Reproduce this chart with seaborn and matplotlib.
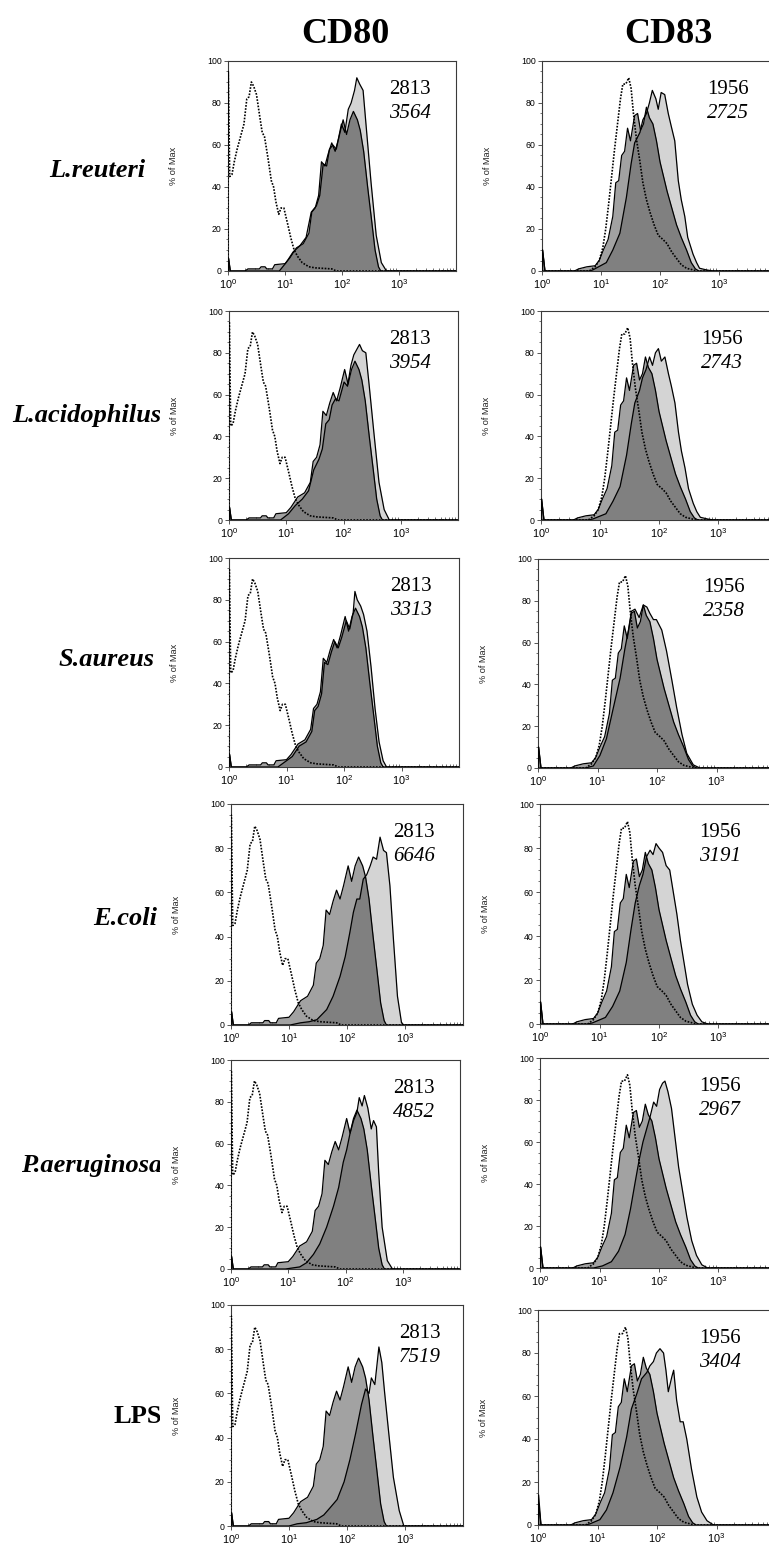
import numpy as np
import matplotlib
matplotlib.use("Agg")
import matplotlib.pyplot as plt
import seaborn as sns
from matplotlib.transforms import Bbox, TransformedBbox

# ---------------------------------------------------------------- data
# x values are log10 fluorescence (10^0 .. 10^4), y values are % of max.
stimuli = ["L.reuteri", "L.acidophilus", "S.aureus", "E.coli", "P.aeruginosa", "LPS"]
markers = ["CD80", "CD83"]
mfi_control = {"CD80": 2813, "CD83": 1956}
mfi_cd80 = [3564, 3954, 3313, 6646, 4852, 7519]
mfi_cd83 = [2725, 2743, 2358, 3191, 2967, 3404]
tick_labels = [r"$10^{0}$", r"$10^{1}$", r"$10^{2}$", r"$10^{3}$"]

# isotype control (dotted)
iso80_x = [0.0, 0.005, 0.03, 0.07, 0.11, 0.16, 0.21, 0.28, 0.33, 0.37, 0.41, 0.45, 0.50, 0.56, 0.60,
           0.64, 0.70, 0.76, 0.80, 0.84, 0.89, 0.93, 0.98, 1.05, 1.10, 1.16, 1.22, 1.30, 1.42, 1.53,
           1.82, 1.90, 4.0]
iso80_y = [0, 95, 45, 46, 52, 58, 63, 70, 82, 83, 90, 88, 84, 73, 66,
           64, 54, 43, 40, 33, 27, 30, 30, 22, 16, 10, 7, 4, 2, 1.5,
           1, 0, 0]
iso83_x = [0.0, 0.80, 0.90, 0.97, 1.03, 1.08, 1.13, 1.18, 1.23, 1.28, 1.33, 1.37, 1.42, 1.47, 1.51,
           1.55, 1.60, 1.66, 1.71, 1.77, 1.83, 1.90, 1.97, 2.05, 2.12, 2.20, 2.28, 2.36, 2.45, 2.56,
           2.62, 4.0]
iso83_y = [0, 0, 2, 5, 11, 20, 32, 45, 58, 70, 82, 89, 89, 92, 87,
           75, 63, 52, 42, 34, 28, 22, 17, 15, 13, 9, 6, 3, 1.3, 0.5,
           0, 0]

# unstimulated cells (medium grey)
ctrl80_x = [0.0, 0.01, 0.04, 0.30, 0.35, 0.55, 0.58, 0.65, 0.68, 0.78, 0.82, 1.00, 1.08, 1.20, 1.32,
            1.42, 1.47, 1.53, 1.59, 1.64, 1.70, 1.76, 1.82, 1.88, 1.94, 2.02, 2.08, 2.14, 2.20, 2.27,
            2.32, 2.38, 2.45, 2.52, 2.58, 2.64, 2.68, 4.0]
ctrl80_y = [0, 6, 0, 0, 1, 1, 2, 2, 1, 1, 3, 3.5, 6, 11, 13,
            18, 28, 30, 36, 52, 50, 56, 61, 57, 63, 72, 65, 72, 76, 72,
            67, 57, 40, 24, 10, 2, 0, 0]
ctrl83_x = [0.0, 0.01, 0.05, 0.55, 0.62, 0.76, 0.90, 0.97, 1.04, 1.12, 1.20, 1.25, 1.30, 1.35, 1.40,
            1.45, 1.50, 1.57, 1.62, 1.67, 1.72, 1.77, 1.82, 1.88, 1.94, 2.00, 2.06, 2.12, 2.20, 2.28,
            2.36, 2.45, 2.53, 2.60, 2.66, 4.0]
ctrl83_y = [0, 10, 0, 0, 1, 2, 2.5, 5, 10, 15, 26, 42, 43, 55, 57,
            68, 62, 74, 75, 67, 70, 78, 73, 70, 62, 52, 45, 38, 30, 22,
            16, 10, 4, 1, 0, 0]

# stimulated cells, CD80 (light grey)
cd80_reuteri_x = [0.0, 0.01, 0.04, 0.90, 1.02, 1.14, 1.26, 1.37, 1.46, 1.55, 1.61, 1.67, 1.73, 1.78, 1.84,
                  1.90, 1.99, 2.05, 2.11, 2.16, 2.22, 2.26, 2.31, 2.37, 2.43, 2.51, 2.60, 2.69, 2.78, 4.0]
cd80_reuteri_y = [0, 6, 0, 0, 4, 9, 12, 16, 28, 31, 36, 51, 50, 58, 60,
                  58, 70, 66, 77, 80, 86, 92, 89, 86, 67, 42, 17, 4, 0, 0]
cd80_acido_x = [0.0, 0.01, 0.04, 0.90, 1.04, 1.16, 1.28, 1.39, 1.48, 1.57, 1.63, 1.69, 1.75, 1.80, 1.86,
                1.92, 2.01, 2.07, 2.13, 2.18, 2.24, 2.28, 2.33, 2.39, 2.45, 2.53, 2.62, 2.71, 2.80, 4.0]
cd80_acido_y = [0, 6, 0, 0, 3, 7, 10, 14, 24, 29, 34, 46, 48, 55, 58,
                57, 66, 64, 74, 79, 82, 84, 81, 80, 64, 42, 18, 5, 0, 0]
cd80_aureus_x = [0.0, 0.01, 0.04, 0.85, 1.00, 1.10, 1.22, 1.34, 1.44, 1.49, 1.55, 1.61, 1.66, 1.72, 1.78,
                 1.84, 1.90, 1.96, 2.04, 2.10, 2.16, 2.19, 2.23, 2.29, 2.34, 2.40, 2.47, 2.54, 2.61, 2.68,
                 2.74, 4.0]
cd80_aureus_y = [0, 6, 0, 0, 3, 5, 10, 12, 17, 27, 29, 35, 50, 49, 55,
                 60, 57, 62, 70, 66, 74, 84, 80, 77, 73, 65, 48, 28, 12, 3,
                 0, 0]
cd80_ecoli_x = [0.0, 0.01, 0.04, 1.02, 1.20, 1.35, 1.48, 1.65, 1.76, 1.88, 1.97, 2.05, 2.11, 2.17, 2.22,
                2.28, 2.34, 2.40, 2.45, 2.51, 2.57, 2.63, 2.68, 2.74, 2.80, 2.87, 2.94, 2.98, 4.0]
cd80_ecoli_y = [0, 6, 0, 0, 1, 1.5, 2.4, 7, 13, 22, 31, 42, 51, 57, 57,
                66, 68, 72, 76, 75, 85, 79, 78, 63, 39, 13, 1, 0, 0]
cd80_paer_x = [0.0, 0.01, 0.04, 0.95, 1.20, 1.32, 1.44, 1.55, 1.67, 1.79, 1.88, 1.96, 2.02, 2.08, 2.14,
               2.20, 2.24, 2.29, 2.33, 2.39, 2.45, 2.49, 2.54, 2.58, 2.64, 2.73, 2.82, 4.0]
cd80_paer_y = [0, 6, 0, 0, 1, 3, 7, 12, 20, 30, 39, 51, 57, 65, 71,
               75, 82, 78, 83, 77, 67, 71, 68, 46, 20, 4, 0, 0]
cd80_lps_x = [0.0, 0.01, 0.04, 1.00, 1.14, 1.30, 1.48, 1.60, 1.70, 1.83, 1.95, 2.05, 2.15, 2.25, 2.32,
              2.38, 2.42, 2.48, 2.55, 2.60, 2.65, 2.72, 2.80, 2.90, 2.98, 4.0]
cd80_lps_y = [0, 6, 0, 0, 1, 1.5, 3, 5, 8, 12, 20, 30, 42, 55, 62,
              60, 67, 64, 81, 74, 60, 42, 22, 7, 0, 0]

# stimulated cells, CD83 (light grey)
cd83_reuteri_x = [0.0, 0.01, 0.05, 0.80, 0.86, 1.09, 1.20, 1.32, 1.43, 1.51, 1.57, 1.66, 1.71, 1.77, 1.82,
                  1.87, 1.93, 1.97, 2.02, 2.08, 2.14, 2.19, 2.25, 2.31, 2.36, 2.42, 2.47, 2.56, 2.62, 2.67,
                  2.79, 2.90, 4.0]
cd83_reuteri_y = [0, 10, 0, 0, 0.5, 4, 10, 18, 35, 51, 61, 66, 72, 75, 80,
                  86, 82, 77, 85, 84, 75, 69, 62, 43, 34, 26, 16, 8, 4, 1.3,
                  0.5, 0, 0]
cd83_acido_x = [0.0, 0.01, 0.05, 0.80, 0.88, 1.10, 1.22, 1.34, 1.45, 1.53, 1.59, 1.67, 1.72, 1.78, 1.84,
                1.89, 1.94, 1.99, 2.04, 2.10, 2.16, 2.21, 2.27, 2.33, 2.38, 2.44, 2.50, 2.58, 2.64, 2.70,
                2.82, 2.92, 4.0]
cd83_acido_y = [0, 10, 0, 0, 0.5, 3, 9, 16, 31, 46, 56, 62, 68, 72, 78,
                74, 80, 82, 76, 78, 70, 64, 56, 42, 33, 25, 15, 8, 4, 1.3,
                0.5, 0, 0]
cd83_aureus_x = [0.0, 0.01, 0.05, 0.80, 0.93, 1.04, 1.15, 1.26, 1.38, 1.46, 1.52, 1.57, 1.63, 1.70, 1.77,
                 1.83, 1.88, 1.94, 1.99, 2.08, 2.16, 2.25, 2.33, 2.42, 2.50, 2.61, 2.72, 4.0]
cd83_aureus_y = [0, 10, 0, 0, 1, 6, 14, 28, 43, 57, 66, 75, 76, 72, 78,
                 77, 74, 71, 71, 66, 56, 42, 29, 16, 7, 1.5, 0, 0]
cd83_ecoli_x = [0.0, 0.01, 0.05, 0.80, 0.88, 1.10, 1.22, 1.34, 1.45, 1.53, 1.60, 1.67, 1.73, 1.79, 1.85,
                1.90, 1.95, 2.00, 2.06, 2.12, 2.18, 2.24, 2.30, 2.36, 2.42, 2.48, 2.56, 2.64, 2.72, 2.82,
                4.0]
cd83_ecoli_y = [0, 10, 0, 0, 0.5, 3, 8, 15, 28, 43, 55, 63, 68, 76, 79,
                77, 82, 80, 78, 72, 70, 60, 50, 38, 28, 18, 9, 4, 1, 0,
                0]
cd83_paer_x = [0.0, 0.01, 0.05, 0.90, 1.05, 1.20, 1.32, 1.43, 1.52, 1.60, 1.67, 1.73, 1.79, 1.85, 1.91,
               1.96, 2.01, 2.06, 2.10, 2.15, 2.21, 2.27, 2.33, 2.40, 2.47, 2.55, 2.63, 2.72, 2.82, 4.0]
cd83_paer_y = [0, 10, 0, 0, 1, 3, 8, 16, 28, 41, 52, 60, 66, 72, 79,
               77, 85, 88, 89, 84, 76, 62, 48, 36, 24, 13, 6, 1.5, 0, 0]
cd83_lps_x = [0.0, 0.01, 0.05, 0.80, 0.87, 1.04, 1.15, 1.26, 1.38, 1.49, 1.57, 1.66, 1.74, 1.83, 1.88,
              1.94, 1.99, 2.05, 2.11, 2.15, 2.19, 2.25, 2.28, 2.33, 2.39, 2.44, 2.50, 2.58, 2.67, 2.75,
              2.84, 2.95, 4.0]
cd83_lps_y = [0, 14, 0, 0, 0.5, 2.5, 7, 15, 27, 41, 54, 61, 68, 71, 74,
              76, 80, 82, 80, 72, 62, 69, 72, 58, 48, 48, 40, 26, 13, 6,
              2, 0, 0]

cd80_treated = [(cd80_reuteri_x, cd80_reuteri_y), (cd80_acido_x, cd80_acido_y),
                (cd80_aureus_x, cd80_aureus_y), (cd80_ecoli_x, cd80_ecoli_y),
                (cd80_paer_x, cd80_paer_y), (cd80_lps_x, cd80_lps_y)]
cd83_treated = [(cd83_reuteri_x, cd83_reuteri_y), (cd83_acido_x, cd83_acido_y),
                (cd83_aureus_x, cd83_aureus_y), (cd83_ecoli_x, cd83_ecoli_y),
                (cd83_paer_x, cd83_paer_y), (cd83_lps_x, cd83_lps_y)]

# ---------------------------------------------------------------- style
LIGHT, MEDIUM, DARK = "#d4d4d4", "#a2a2a2", "#808080"
FRAME = "#3a3a3a"

sns.set_style("white")
plt.rcParams["font.family"] = ["Liberation Sans", "DejaVu Sans"]
plt.rcParams["text.color"] = "black"
plt.rcParams["axes.labelcolor"] = "black"
plt.rcParams["xtick.color"] = "black"
plt.rcParams["ytick.color"] = "black"
plt.rcParams["mathtext.fontset"] = "custom"
plt.rcParams["mathtext.rm"] = "Liberation Sans"
plt.rcParams["mathtext.it"] = "Liberation Sans:italic"
plt.rcParams["mathtext.bf"] = "Liberation Sans:bold"
SERIF = ["Liberation Serif", "DejaVu Serif"]

W, H = 769, 1551
fig = plt.figure(figsize=(W / 100, H / 100), dpi=100)


def px_box(left, top, right, bottom):
    return [left / W, 1 - bottom / H, (right - left) / W, (bottom - top) / H]


# panel frames in pixels: (left, top, right, bottom)
left_boxes = [(228, 61, 456, 271), (229, 311, 458, 520), (229, 558, 459, 767),
              (231, 804, 463, 1025), (231, 1060, 460, 1269), (231, 1305, 463, 1526)]
right_boxes = [(542, 61, 778, 271), (541, 311, 777, 520), (538, 559, 776, 768),
               (540, 804, 778, 1024), (540, 1058, 778, 1268), (538, 1310, 776, 1525)]
num_x_left = [410, 410, 411, 414, 414, 420]
num_x_right = [728, 722, 724, 720, 720, 720]

minor_x = [k + np.log10(m) for k in range(4) for m in range(2, 10)]


def draw_panel(box, iso, ctrl, trt, n_ctrl, n_trt, num_x):
    ax = fig.add_axes(px_box(*box))
    cx, cy = np.asarray(ctrl[0]), np.asarray(ctrl[1])
    tx, ty = np.asarray(trt[0]), np.asarray(trt[1])
    ix, iy = np.asarray(iso[0]), np.asarray(iso[1])

    light = ax.fill_between(tx, ty, color=LIGHT, lw=0, zorder=1)
    ax.fill_between(cx, cy, color=MEDIUM, lw=0, zorder=2)
    overlap = ax.fill_between(cx, cy, color=DARK, lw=0, zorder=3)
    overlap.set_clip_path(light.get_paths()[0], ax.transData)

    sns.lineplot(x=tx, y=ty, ax=ax, color="black", lw=0.9, estimator=None,
                 sort=False, zorder=4)
    sns.lineplot(x=cx, y=cy, ax=ax, color="black", lw=0.9, estimator=None,
                 sort=False, zorder=4)
    sns.lineplot(x=ix, y=iy, ax=ax, color="black", lw=1.2, estimator=None,
                 sort=False, linestyle=(0, (1, 0.9)), zorder=5)

    ax.set_xlim(0, 4)
    ax.set_ylim(0, 100)
    ax.set_xticks(range(4))
    ax.set_xticklabels(tick_labels)
    ax.set_xticks(minor_x, minor=True)
    ax.set_yticks(range(0, 101, 20))
    ax.set_yticks(range(0, 101, 5), minor=True)
    ax.tick_params(axis="x", which="major", bottom=True, direction="out", length=3,
                   width=0.6, color=FRAME, labelcolor="black", labelsize=7.8, pad=1.5)
    ax.tick_params(axis="x", which="minor", bottom=True, direction="in", length=2.5,
                   width=0.5, color=FRAME)
    ax.tick_params(axis="y", which="major", left=True, direction="out", length=3,
                   width=0.6, color=FRAME, labelcolor="black", labelsize=6.3, pad=1.5)
    ax.tick_params(axis="y", which="minor", left=True, direction="out", length=1.5,
                   width=0.5, color=FRAME)
    for s in ax.spines.values():
        s.set_color(FRAME)
        s.set_linewidth(0.8)
    ax.set_xlabel("")
    ax.set_ylabel("% of Max", fontsize=6.6, color="#222222")
    width_px = box[2] - box[0]
    ax.yaxis.set_label_coords(-50 / width_px, 0.5)
    ax.grid(False)

    top = box[1]
    fig.text(num_x / W, 1 - (top + 33) / H, str(n_ctrl), family=SERIF, fontsize=15,
             color="black", ha="center", va="baseline")
    fig.text(num_x / W, 1 - (top + 57) / H, str(n_trt), family=SERIF, fontsize=15,
             color="black", style="italic", ha="center", va="baseline")
    return ax


for i in range(len(stimuli)):
    draw_panel(left_boxes[i], (iso80_x, iso80_y), (ctrl80_x, ctrl80_y), cd80_treated[i],
               mfi_control["CD80"], mfi_cd80[i], num_x_left[i])
    draw_panel(right_boxes[i], (iso83_x, iso83_y), (ctrl83_x, ctrl83_y), cd83_treated[i],
               mfi_control["CD83"], mfi_cd83[i], num_x_right[i])

# column headers
for name, xc in zip(markers, [345, 668]):
    fig.text(xc / W, 1 - 43 / H, name, family=SERIF, fontsize=26, weight="bold",
             color="black", ha="center", va="baseline")

# row labels: (anchor x, baseline y, alignment)
label_pos = [(145, 177, "right"), (12, 422, "left"), (155, 666, "right"),
             (157, 925, "right"), (162, 1172, "right"), (162, 1423, "right")]
clip = TransformedBbox(Bbox([[0, 0], [160 / W, 1]]), fig.transFigure)
for name, (xa, yb, ha) in zip(stimuli, label_pos):
    t = fig.text(xa / W, 1 - yb / H, name, family=SERIF, fontsize=19, weight="bold",
                 color="black", style="normal" if name == "LPS" else "italic",
                 ha=ha, va="baseline")
    t.set_clip_box(clip)
    t.set_clip_on(True)

fig.savefig("out.png", dpi=100)
